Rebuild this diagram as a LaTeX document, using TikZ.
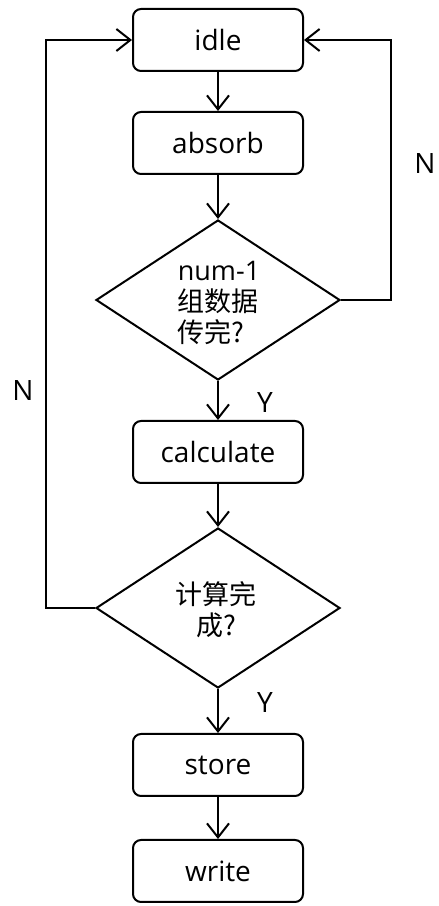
\documentclass[tikz,border=0pt]{standalone}
\usepackage{fontspec}
\setmainfont{Open Sans}
\newfontfamily\cjk{Noto Sans CJK SC}
\usetikzlibrary{shapes.geometric,arrows.meta}

\begin{document}
\begin{tikzpicture}[x=1pt, y=1pt, line width=2pt,
    every node/.style={font=\fontsize{28}{31}\selectfont},
    state/.style={draw, rounded corners=8pt, minimum width=170pt, minimum height=62pt, inner sep=0pt},
    decision/.style={draw, diamond, minimum width=244pt, minimum height=160pt, inner sep=0pt, align=center},
    flow/.style={-{Straight Barb[length=14pt, width=22pt, line width=2pt]}}]
  \useasboundingbox (0,0) rectangle (439,906);
  % estados
  \node[state] (idle) at (218,866) {idle};
  \node[state] (absorb) at (218,763) {absorb};
  \node[decision] (dec1) at (218,606) {};
  \node[align=left, font=\fontsize{27}{31}\selectfont] (dec1txt) at (219,603) {num-1\\{\cjk 组数据}\\{\cjk 传完?}};
  \node[state] (calc) at (218,454) {calculate};
  \node[decision] (dec2) at (218,298) {};
  \node[align=center, font=\fontsize{27}{31}\selectfont] (dec2txt) at (216,296) {{\cjk 计算完}\\{\cjk 成?}};
  \node[state] (store) at (218,141) {store};
  \node[state] (write) at (218,35) {write};
  % flechas
  \draw[flow] (idle) -- (absorb);
  \draw[flow] (absorb) -- (dec1);
  \draw[flow] (dec1) -- (calc);
  \draw[flow] (calc) -- (dec2);
  \draw[flow] (dec2) -- (store);
  \draw[flow] (store) -- (write);
  % lazos
  \coordinate (rloop) at (391,0);
  \coordinate (lloop) at (46,0);
  \draw[flow] (dec1.east) -- (dec1.east -| rloop) |- (idle.east);
  \draw[flow] (dec2.west) -- (dec2.west -| lloop) |- (idle.west);
  % etiquetas
  \node (n1) at (425,742) {N};
  \node (n2) at (23,515) {N};
  \node (y1) at (265,503) {Y};
  \node (y2) at (265,203) {Y};
\end{tikzpicture}
\end{document}
